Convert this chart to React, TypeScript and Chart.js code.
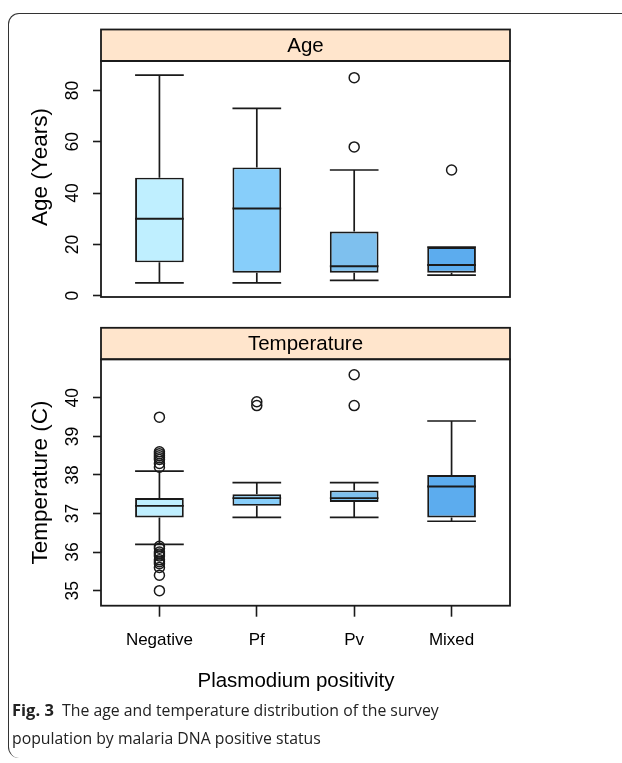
import React, { useEffect, useRef } from "react";
import { Chart, registerables } from "chart.js";

Chart.register(...registerables);

// ---------- data ----------
const CATEGORIES = ["Negative", "Pf", "Pv", "Mixed"];
const BOX_COLORS = ["#BFEFFF", "#87CEFA", "#7EC0EE", "#5CACEE"];

const AGE_LOW = [5, 5, 6, 8];
const AGE_Q1 = [13, 9, 9, 9];
const AGE_MEDIAN = [30, 34, 11.5, 12];
const AGE_Q3 = [46, 50, 25, 19];
const AGE_HIGH = [86, 73, 49, 19];
const AGE_OUTLIERS = [[], [], [85, 58], [49]];
const AGE_TICKS = [0, 20, 40, 60, 80];

const TEMP_LOW = [36.2, 36.9, 36.9, 36.8];
const TEMP_Q1 = [36.9, 37.2, 37.3, 36.9];
const TEMP_MEDIAN = [37.2, 37.4, 37.4, 37.7];
const TEMP_Q3 = [37.4, 37.5, 37.6, 38.0];
const TEMP_HIGH = [38.1, 37.8, 37.8, 39.4];
const TEMP_OUTLIERS = [
  [39.5, 38.6, 38.55, 38.5, 38.45, 38.4, 38.3, 38.2, 36.15, 36.1, 36.0, 35.95, 35.9, 35.8, 35.75, 35.7, 35.6, 35.4, 35.0],
  [39.9, 39.8],
  [40.6, 39.8],
  [],
];
const TEMP_TICKS = [35, 36, 37, 38, 39, 40];

const X_TICKS = [1, 2, 3, 4];

const FONT = "'Liberation Sans', Arial, Helvetica, sans-serif";
const INK = "#1a1a1a";

type PanelCfg = {
  strip: string;
  yTitle: string;
  yTitleY: number;
  low: number[];
  q1: number[];
  median: number[];
  q3: number[];
  high: number[];
  outliers: number[][];
  yTicks: number[];
  yMin: number;
  yMax: number;
  showX: boolean;
  height: number;
  padTop: number;
  xAxisHeight: number;
  padBottom: number;
};

const decorPlugin = {
  id: "boxdecor",
  afterDatasetsDraw(chart: any) {
    const cfg: PanelCfg = chart.options.plugins.boxdecor.cfg;
    const { ctx, scales } = chart;
    const xs = scales.x;
    const ys = scales.y;
    ctx.save();
    ctx.strokeStyle = INK;
    ctx.lineCap = "butt";
    for (let i = 0; i < CATEGORIES.length; i++) {
      const cx = xs.getPixelForValue(X_TICKS[i]);
      const l = xs.getPixelForValue(X_TICKS[i] - 0.25);
      const r = xs.getPixelForValue(X_TICKS[i] + 0.25);
      const yLow = ys.getPixelForValue(cfg.low[i]);
      const yQ1 = ys.getPixelForValue(cfg.q1[i]);
      const yQ3 = ys.getPixelForValue(cfg.q3[i]);
      const yHigh = ys.getPixelForValue(cfg.high[i]);
      const yMed = ys.getPixelForValue(cfg.median[i]);
      ctx.lineWidth = 1.7;
      ctx.beginPath();
      ctx.moveTo(cx, yQ3);
      ctx.lineTo(cx, yHigh);
      ctx.moveTo(l, yHigh);
      ctx.lineTo(r, yHigh);
      ctx.moveTo(cx, yQ1);
      ctx.lineTo(cx, yLow);
      ctx.moveTo(l, yLow);
      ctx.lineTo(r, yLow);
      ctx.stroke();
      ctx.lineWidth = 1.9;
      ctx.beginPath();
      ctx.moveTo(l, yMed);
      ctx.lineTo(r, yMed);
      ctx.stroke();
    }
    ctx.restore();
  },
  afterDraw(chart: any) {
    const cfg: PanelCfg = chart.options.plugins.boxdecor.cfg;
    const { ctx, chartArea } = chart;
    const { left, right, top, bottom } = chartArea;
    ctx.save();
    // strip
    const sh = 31.5;
    ctx.fillStyle = "#FFE5CC";
    ctx.fillRect(left, top - sh, right - left, sh);
    ctx.strokeStyle = INK;
    ctx.lineWidth = 1.8;
    ctx.strokeRect(left, top - sh, right - left, sh);
    ctx.fillStyle = "#000";
    ctx.font = `20.5px ${FONT}`;
    ctx.textAlign = "center";
    ctx.textBaseline = "middle";
    ctx.fillText(cfg.strip, (left + right) / 2, top - sh / 2 + 1);
    // panel frame
    ctx.strokeRect(left, top, right - left, bottom - top);
    // y title
    ctx.save();
    ctx.translate(41, cfg.yTitleY);
    ctx.rotate(-Math.PI / 2);
    ctx.font = `22.5px ${FONT}`;
    ctx.fillText(cfg.yTitle, 0, 0);
    ctx.restore();
    // x title
    if (cfg.showX) {
      ctx.font = `20.5px ${FONT}`;
      ctx.fillText("Plasmodium positivity", 296, bottom + 76);
    }
    ctx.restore();
  },
};

function Panel({ cfg, top }: { cfg: PanelCfg; top: number }) {
  const ref = useRef<HTMLCanvasElement | null>(null);
  useEffect(() => {
    if (!ref.current) return;
    const boxes = CATEGORIES.map((_, i) => ({ x: X_TICKS[i], y: [cfg.q1[i], cfg.q3[i]] }));
    const pts: { x: number; y: number }[] = [];
    cfg.outliers.forEach((arr, i) => arr.forEach((v) => pts.push({ x: X_TICKS[i], y: v })));
    const chart = new Chart(ref.current, {
      type: "bar",
      data: {
        datasets: [
          {
            type: "bar",
            data: boxes as any,
            backgroundColor: BOX_COLORS,
            borderColor: INK,
            borderWidth: 1.9,
            borderSkipped: false,
            barPercentage: 0.5,
            categoryPercentage: 1,
            grouped: false,
            order: 2,
          } as any,
          {
            type: "scatter",
            data: pts,
            pointStyle: "circle",
            pointRadius: 5,
            pointBorderWidth: 1.5,
            pointBackgroundColor: "rgba(0,0,0,0)",
            pointBorderColor: INK,
            order: 1,
          } as any,
        ],
      },
      options: {
        responsive: false,
        animation: false,
        events: [],
        layout: { padding: { top: cfg.padTop, right: 112, left: 0, bottom: cfg.padBottom } },
        plugins: {
          legend: { display: false },
          tooltip: { enabled: false },
          boxdecor: { cfg },
        } as any,
        scales: {
          x: {
            type: "linear",
            min: 0.4,
            max: 4.6,
            offset: false,
            display: cfg.showX,
            afterBuildTicks: (s: any) => {
              s.ticks = X_TICKS.map((v) => ({ value: v }));
            },
            afterFit: (s: any) => {
              s.height = cfg.xAxisHeight;
            },
            border: { display: false },
            grid: {
              offset: false,
              drawOnChartArea: false,
              drawTicks: true,
              tickLength: 11,
              tickWidth: 1.6,
              tickColor: INK,
            },
            ticks: {
              autoSkip: false,
              maxRotation: 0,
              padding: 13,
              color: "#000",
              font: { family: FONT, size: 17 },
              callback: (v: any) => CATEGORIES[X_TICKS.indexOf(Number(v))] ?? "",
            },
          },
          y: {
            type: "linear",
            min: cfg.yMin,
            max: cfg.yMax,
            afterBuildTicks: (s: any) => {
              s.ticks = cfg.yTicks.map((v) => ({ value: v }));
            },
            afterFit: (s: any) => {
              s.width = 101;
            },
            border: { display: false },
            grid: {
              drawOnChartArea: false,
              drawTicks: true,
              tickLength: 8,
              tickWidth: 1.6,
              tickColor: INK,
            },
            ticks: {
              minRotation: 90,
              maxRotation: 90,
              crossAlign: "center",
              padding: 10.5,
              color: "#000",
              font: { family: FONT, size: 17.5 },
              callback: (v: any) => String(v),
            },
          },
        },
      } as any,
      plugins: [decorPlugin],
    });
    return () => chart.destroy();
  }, [cfg]);
  return (
    <canvas
      ref={ref}
      width={622}
      height={cfg.height}
      style={{ position: "absolute", left: 0, top, width: 622, height: cfg.height }}
    />
  );
}

const AGE_CFG: PanelCfg = {
  strip: "Age",
  yTitle: "Age (Years)",
  yTitleY: 167,
  low: AGE_LOW,
  q1: AGE_Q1,
  median: AGE_MEDIAN,
  q3: AGE_Q3,
  high: AGE_HIGH,
  outliers: AGE_OUTLIERS,
  yTicks: AGE_TICKS,
  yMin: -0.5,
  yMax: 91.5,
  showX: false,
  height: 318,
  padTop: 61,
  xAxisHeight: 0,
  padBottom: 12,
};

const TEMP_CFG: PanelCfg = {
  strip: "Temperature",
  yTitle: "Temperature (C)",
  yTitleY: 162.5,
  low: TEMP_LOW,
  q1: TEMP_Q1,
  median: TEMP_MEDIAN,
  q3: TEMP_Q3,
  high: TEMP_HIGH,
  outliers: TEMP_OUTLIERS,
  yTicks: TEMP_TICKS,
  yMin: 34.61,
  yMax: 41.0,
  showX: true,
  height: 380,
  padTop: 39.3,
  xAxisHeight: 94.3,
  padBottom: 0,
};

export default function App() {
  return (
    <div style={{ position: "absolute", left: 0, top: 0, width: 622, height: 763, background: "#fff", overflow: "hidden" }}>
      <div
        style={{
          position: "absolute",
          left: 8,
          top: 13,
          width: 640,
          height: 745,
          borderTop: "1.2px solid #333",
          borderLeft: "1.2px solid #333",
          borderTopLeftRadius: 11,
          borderBottomLeftRadius: 11,
          boxSizing: "border-box",
        }}
      />
      <Panel cfg={AGE_CFG} top={0} />
      <Panel cfg={TEMP_CFG} top={320} />
      <div
        style={{
          position: "absolute",
          left: 12,
          top: 696,
          fontFamily: "'Open Sans', 'Noto Sans', sans-serif",
          fontSize: 15.8,
          lineHeight: "28px",
          color: "#222",
          whiteSpace: "nowrap",
        }}
      >
        <b style={{ fontSize: 16.5 }}>Fig. 3</b>&nbsp; The age and temperature distribution of the survey
        <br />
        population by malaria DNA positive status
      </div>
    </div>
  );
}
